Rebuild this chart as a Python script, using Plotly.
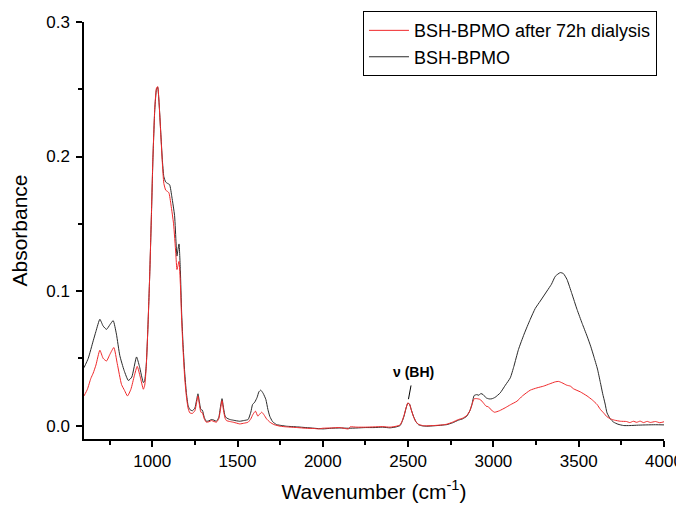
import plotly.graph_objects as go

# ---- data ----
wn_black = [600, 625, 654, 670, 693, 712, 732, 752, 771, 790, 810, 835, 860, 880, 908, 925, 948, 955, 965, 975,
            985, 995, 1004, 1015, 1025, 1032, 1040, 1050, 1059, 1068, 1079, 1090, 1102, 1115, 1131, 1140, 1145,
            1151, 1157, 1165, 1172, 1180, 1190, 1200, 1210, 1220, 1235, 1250, 1260, 1268, 1276, 1285, 1294, 1305,
            1317, 1332, 1347, 1362, 1376, 1390, 1400, 1409, 1418, 1427, 1435, 1455, 1474, 1495, 1513, 1540, 1562,
            1578, 1588, 1601, 1615, 1625, 1636, 1650, 1666, 1678, 1689, 1705, 1729, 1760, 1787, 1850, 1900, 1950,
            2000, 2050, 2100, 2150, 2200, 2250, 2300, 2350, 2394, 2430, 2453, 2465, 2476, 2488, 2498, 2508, 2518,
            2531, 2545, 2560, 2585, 2609, 2650, 2700, 2727, 2760, 2795, 2820, 2844, 2862, 2874, 2887, 2903, 2915,
            2926, 2940, 2957, 2975, 2991, 3010, 3040, 3070, 3099, 3120, 3147, 3180, 3216, 3245, 3275, 3314, 3340,
            3363, 3392, 3410, 3431, 3460, 3490, 3520, 3549, 3570, 3588, 3610, 3627, 3640, 3655, 3666, 3685, 3705,
            3730, 3764, 3800, 3850, 3900, 3950, 4000]
abs_black = [0.043, 0.050, 0.063, 0.070, 0.079, 0.074, 0.0715, 0.075, 0.078, 0.068, 0.052, 0.041, 0.0335, 0.036,
             0.051, 0.044, 0.032, 0.033, 0.045, 0.074, 0.111, 0.155, 0.198, 0.235, 0.250, 0.2515, 0.240, 0.218,
             0.198, 0.185, 0.181, 0.180, 0.179, 0.170, 0.156, 0.135, 0.126, 0.131, 0.135, 0.115, 0.085, 0.062,
             0.040, 0.0245, 0.015, 0.012, 0.011, 0.013, 0.019, 0.0236, 0.018, 0.012, 0.0114, 0.006, 0.0032, 0.0035,
             0.0045, 0.004, 0.0032, 0.006, 0.014, 0.020, 0.013, 0.007, 0.0057, 0.0045, 0.004, 0.0035, 0.0032,
             0.0038, 0.0045, 0.010, 0.0156, 0.0174, 0.021, 0.025, 0.0263, 0.024, 0.0194, 0.012, 0.0069, 0.003,
             0.0007, 0.0, -0.0005, -0.001, -0.0015, -0.002, -0.0025, -0.002, -0.0018, -0.002, -0.0018, -0.0015,
             -0.0015, -0.0012, -0.0017, -0.001, 0.0, 0.003, 0.007, 0.013, 0.0165, 0.0160, 0.012, 0.007, 0.003,
             0.0007, -0.0003, -0.0005, -0.0002, 0.0003, 0.0007, 0.002, 0.004, 0.005, 0.007, 0.011, 0.0156, 0.0223,
             0.023, 0.0225, 0.0238, 0.023, 0.0206, 0.0198, 0.0199, 0.021, 0.0243, 0.030, 0.0355, 0.044, 0.0566,
             0.068, 0.079, 0.087, 0.0926, 0.100, 0.105, 0.111, 0.1137, 0.113, 0.1087, 0.098, 0.0864, 0.076,
             0.0665, 0.059, 0.0516, 0.042, 0.032, 0.024, 0.016, 0.0094, 0.005, 0.0025, 0.001, 0.0, 0.0, 0.0003,
             0.0005, 0.0006, 0.0005]

wn_red = [600, 620, 640, 654, 670, 693, 712, 732, 752, 775, 795, 820, 838, 855, 875, 895, 912, 930, 948, 956, 965,
          975, 985, 995, 1004, 1015, 1025, 1032, 1040, 1050, 1059, 1068, 1079, 1090, 1098, 1110, 1125, 1138, 1145,
          1151, 1157, 1165, 1172, 1180, 1190, 1200, 1210, 1220, 1235, 1250, 1260, 1268, 1276, 1285, 1294, 1305,
          1317, 1332, 1347, 1362, 1376, 1390, 1400, 1409, 1418, 1427, 1435, 1455, 1474, 1495, 1513, 1540, 1562,
          1578, 1590, 1605, 1619, 1630, 1642, 1655, 1670, 1690, 1714, 1750, 1787, 1850, 1900, 1950, 1975, 2000,
          2050, 2100, 2150, 2160, 2200, 2250, 2300, 2350, 2394, 2430, 2453, 2465, 2476, 2488, 2498, 2508, 2518,
          2531, 2545, 2560, 2585, 2609, 2650, 2700, 2727, 2760, 2795, 2820, 2844, 2862, 2874, 2887, 2903, 2922,
          2940, 2957, 2970, 2981, 3006, 3035, 3069, 3100, 3138, 3170, 3216, 3255, 3294, 3330, 3363, 3382, 3402,
          3430, 3451, 3470, 3510, 3549, 3580, 3608, 3627, 3646, 3666, 3686, 3710, 3744, 3780, 3800, 3820, 3840,
          3860, 3880, 3901, 3920, 3950, 3975, 4000]
abs_red = [0.022, 0.027, 0.035, 0.039, 0.045, 0.056, 0.050, 0.048, 0.053, 0.058, 0.046, 0.0305, 0.026, 0.022,
           0.027, 0.037, 0.044, 0.036, 0.027, 0.030, 0.044, 0.074, 0.111, 0.156, 0.199, 0.236, 0.251, 0.252, 0.240,
           0.217, 0.196, 0.180, 0.175, 0.174, 0.173, 0.164, 0.150, 0.128, 0.116, 0.119, 0.122, 0.105, 0.080, 0.058,
           0.036, 0.022, 0.013, 0.0095, 0.009, 0.011, 0.017, 0.022, 0.016, 0.010, 0.0095, 0.005, 0.0025, 0.0028,
           0.0037, 0.003, 0.0025, 0.005, 0.012, 0.0186, 0.011, 0.0055, 0.0037, 0.003, 0.0025, 0.0018, 0.0012,
           0.0018, 0.0025, 0.005, 0.0082, 0.0107, 0.007, 0.0085, 0.0099, 0.008, 0.005, 0.0025, 0.0007, -0.0005,
           -0.001, -0.0015, -0.002, -0.0022, -0.0025, -0.002, -0.0018, -0.0015, -0.0025, -0.001, -0.0012, -0.0012,
           -0.001, -0.0008, -0.0012, -0.0005, 0.0005, 0.0035, 0.0075, 0.013, 0.0168, 0.016, 0.0118, 0.0068, 0.003,
           0.001, 0.0, -0.0002, 0.0, 0.0005, 0.001, 0.0025, 0.0045, 0.0055, 0.0075, 0.011, 0.0155, 0.0199, 0.020,
           0.0194, 0.017, 0.0144, 0.014, 0.0124, 0.0099, 0.011, 0.0132, 0.0155, 0.0181, 0.022, 0.0263, 0.028,
           0.0293, 0.031, 0.0325, 0.0328, 0.0318, 0.030, 0.0293, 0.0273, 0.025, 0.022, 0.019, 0.0156, 0.012,
           0.0094, 0.0065, 0.005, 0.004, 0.0032, 0.003, 0.0022, 0.0032, 0.0024, 0.0033, 0.0022, 0.0031, 0.0023,
           0.0030, 0.0021, 0.0028, 0.002]

name_red = "BSH-BPMO after 72h dialysis"
name_black = "BSH-BPMO"

x_ticks = [1000, 1500, 2000, 2500, 3000, 3500, 4000]
y_ticks = [0.0, 0.1, 0.2, 0.3]

label_text = "<b>ν (BH)</b>"
label_pos = (2529, 0.0397)
label_line = ((2517, 0.0298), (2502, 0.0196))

FONT = "Arial, Liberation Sans, sans-serif"

fig = go.Figure()
fig.add_trace(go.Scatter(x=wn_black, y=abs_black, mode="lines", name=name_black,
                         line=dict(color="#2a2a2a", width=1, shape="spline", smoothing=0.5)))
fig.add_trace(go.Scatter(x=wn_red, y=abs_red, mode="lines", name=name_red,
                         line=dict(color="#f0282a", width=1, shape="spline", smoothing=0.5)))

fig.add_annotation(x=label_pos[0], y=label_pos[1], xref="x", yref="y", text=label_text, showarrow=False,
                   font=dict(family=FONT, size=14, color="black"))
fig.add_shape(type="line", xref="x", yref="y", x0=label_line[0][0], y0=label_line[0][1],
              x1=label_line[1][0], y1=label_line[1][1], line=dict(color="black", width=1))

fig.update_layout(
    width=684, height=508,
    margin=dict(l=76, r=28, t=14, b=77, autoexpand=False),
    paper_bgcolor="white", plot_bgcolor="white",
    font=dict(family=FONT, size=18, color="black"),
    showlegend=True,
    legend=dict(x=0.481, y=1.026, xanchor="left", yanchor="top", traceorder="reversed",
                bordercolor="black", borderwidth=1, bgcolor="white",
                font=dict(family=FONT, size=18, color="black"), itemwidth=40,
                tracegroupgap=0),
)
fig.update_xaxes(
    range=[600, 4000], tickvals=x_ticks, showline=True, linecolor="black", linewidth=1.5,
    ticks="outside", ticklen=6, tickwidth=1.5, tickcolor="black", showgrid=False, zeroline=False,
    minor=dict(ticks="outside", ticklen=4, tickwidth=1.5, tickcolor="black", dtick=250, tick0=0, showgrid=False),
    tickfont=dict(size=17), automargin=False,
    title=dict(text="Wavenumber (cm<sup>-1</sup>)", font=dict(size=21), standoff=14),
)
fig.update_yaxes(
    range=[-0.01, 0.3], tickvals=y_ticks, tickformat=".1f", showline=True, linecolor="black", linewidth=1.5,
    ticks="outside", ticklen=6, tickwidth=1.5, tickcolor="black", showgrid=False, zeroline=False,
    minor=dict(ticks="outside", ticklen=4, tickwidth=1.5, tickcolor="black", dtick=0.05, tick0=0, showgrid=False),
    tickfont=dict(size=17), automargin=False, ticklabelstandoff=3,
    title=dict(text="Absorbance", font=dict(size=21), standoff=16),
)

fig.write_html("out.html")
